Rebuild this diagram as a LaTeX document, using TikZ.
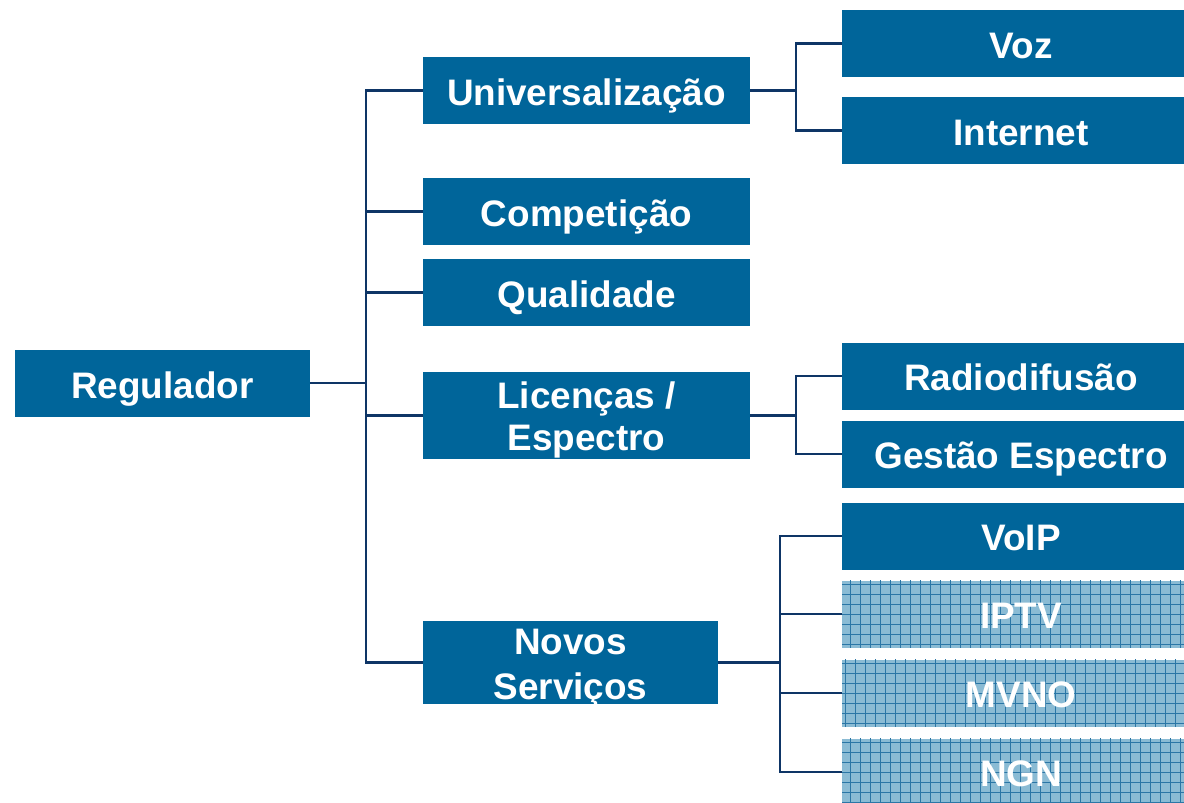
\documentclass[tikz,border=0pt]{standalone}
\usepackage{fontspec}
\setmainfont{Liberation Sans}
\definecolor{boxblue}{HTML}{00659A}
\definecolor{linenavy}{HTML}{0E3566}
\definecolor{hatchfill}{HTML}{8ABBD4}
\definecolor{hatchline}{HTML}{2A76A6}
\newcommand{\one}[1]{\raisebox{-0.29cm}[0pt][0pt]{#1}}
\newcommand{\two}[3]{\raisebox{-0.29cm}[0pt][0pt]{\fontsize{21}{#3}\selectfont\begin{tabular}{@{}c@{}}#1\\#2\end{tabular}}}
\tikzset{
  box/.style={fill=boxblue, text=white, inner sep=0pt,
    font=\fontsize{21}{24.4}\selectfont\bfseries},
  leftbox/.style={box, minimum width=6.54cm, minimum height=1.34cm},
  rightbox/.style={box, minimum width=7.16cm, minimum height=1.34cm},
  hatched/.style={fill=hatchfill, path picture={
      \draw[hatchline, line width=0.45pt]
        ([xshift=-0.01cm,yshift=0.01cm]path picture bounding box.north west)
        grid[step=0.2cm] (path picture bounding box.south east);}},
  conn/.style={draw=linenavy, line width=1.5pt}
}
\begin{document}
\begin{tikzpicture}[x=0.02cm, y=-0.02cm]
\useasboundingbox (0,0) rectangle (1184,802);
% main nodes
\node[box, minimum width=5.9cm, minimum height=1.34cm] (reg) at (162.5,383.5) {\one{Regulador}};
\node[leftbox] (univ) at (586.5,90.5) {\one{Universalização}};
\node[leftbox] (comp) at (586.5,211.5) {\one{Competição}};
\node[leftbox] (qual) at (586.5,292.5) {\one{Qualidade}};
\node[leftbox, minimum height=1.74cm] (lic) at (586.5,415.5) {\two{Licenças /}{Espectro}{24.4}};
\node[box, minimum width=5.9cm, minimum height=1.66cm] (novos) at (570.5,662.5) {\two{Novos}{Serviços}{26.1}};
% right nodes (they run on past the right edge of the page)
\node[rightbox] (voz) at (1021,43.5) {\one{Voz}};
\node[rightbox] (inet) at (1021,130.5) {\one{Internet}};
\node[rightbox] (radio) at (1021,376) {\one{Radiodifusão}};
\node[rightbox] (gest) at (1021,454) {\one{Gestão Espectro}};
\node[rightbox] (voip) at (1021,536) {\one{VoIP}};
\node[rightbox, hatched] (iptv) at (1021,614) {\one{IPTV}};
\node[rightbox, hatched] (mvno) at (1021,693) {\one{MVNO}};
\node[rightbox, hatched] (ngn) at (1021,772) {\one{NGN}};
% trunk coordinates
\coordinate (t1) at (366,383);
\coordinate (t2) at (796,91);
\coordinate (t3) at (796,415);
\coordinate (t4) at (780,663);
% connectors
\draw[conn] (reg.east |- t1) -- (t1);
\draw[conn] (univ.west) -| (t1) |- (novos.west);
\draw[conn] (t1) |- (comp.west);
\draw[conn] (t1) |- (qual.west);
\draw[conn] (t1) |- (lic.west);
\draw[conn] (univ.east) -- (univ.east -| t2);
\draw[conn] (voz.west) -| (t2) |- (inet.west);
\draw[conn] (lic.east) -- (lic.east -| t3);
\draw[conn] (radio.west) -| (t3) |- (gest.west);
\draw[conn] (novos.east) -- (novos.east -| t4);
\draw[conn] (voip.west) -| (t4) |- (ngn.west);
\draw[conn] (t4) |- (iptv.west);
\draw[conn] (t4) |- (mvno.west);
\end{tikzpicture}
\end{document}
